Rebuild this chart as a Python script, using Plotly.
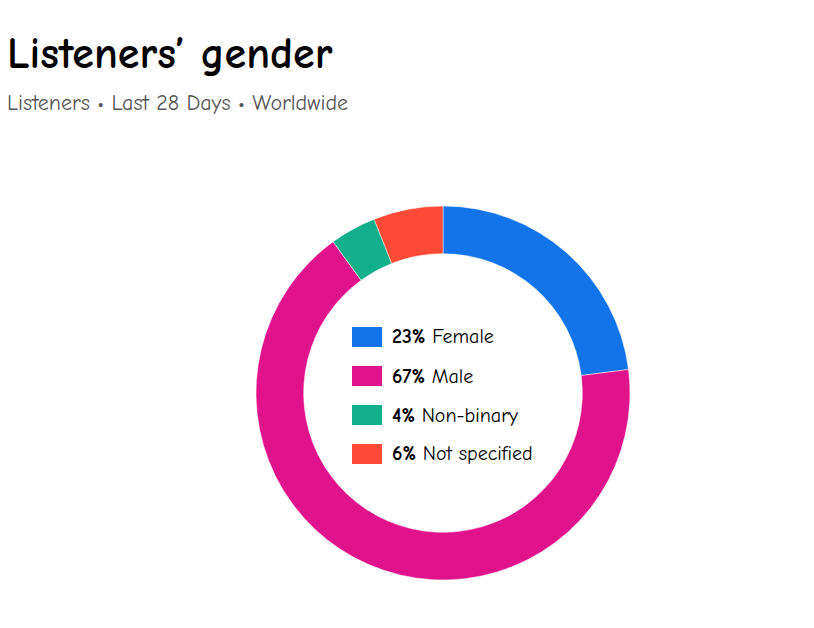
import plotly.graph_objects as go

# Data
categories = ["Female", "Male", "Non-binary", "Not specified"]
shares = [23, 67, 4, 6]
colors = ["#1273EA", "#E0138C", "#12B08A", "#FF4A36"]

title_text = "Listeners’ gender"
subtitle_text = "Listeners • Last 28 Days • Worldwide"

W, H = 814, 628
FONT = "Comic Sans MS, Comic Neue, DejaVu Sans, sans-serif"

fig = go.Figure()

cx, cy, r = 443, 393, 187
fig.add_trace(go.Pie(
    labels=categories,
    values=shares,
    marker=dict(colors=colors, line=dict(color="white", width=0.5)),
    hole=0.745,
    sort=False,
    direction="clockwise",
    rotation=0,
    textinfo="none",
    hoverinfo="label+percent",
    showlegend=False,
    domain=dict(x=[(cx - r) / W, (cx + r) / W], y=[(H - cy - r) / H, (H - cy + r) / H]),
))

shapes = []
annotations = []
# Legend inside the hole
row_y0 = 337
row_step = 39
for i, (cat, val, col) in enumerate(zip(categories, shares, colors)):
    yc = row_y0 + i * row_step
    shapes.append(dict(type="rect", xref="paper", yref="paper",
                       x0=352 / W, x1=382 / W,
                       y0=(H - yc - 10) / H, y1=(H - yc + 10) / H,
                       fillcolor=col, line=dict(width=0)))
    annotations.append(dict(xref="paper", yref="paper", x=390 / W, y=(H - yc) / H,
                            xanchor="left", yanchor="middle", showarrow=False,
                            text=f"<b>{val}%</b> {cat}",
                            font=dict(family=FONT, size=20, color="#000")))

annotations.append(dict(xref="paper", yref="paper", x=5 / W, y=(H - 54) / H,
                        xanchor="left", yanchor="middle", showarrow=False,
                        text=f"<b>{title_text}</b>",
                        font=dict(family=FONT, size=44, color="#000")))
annotations.append(dict(xref="paper", yref="paper", x=5 / W, y=(H - 103) / H,
                        xanchor="left", yanchor="middle", showarrow=False,
                        text=subtitle_text,
                        font=dict(family=FONT, size=22, color="#555")))

fig.update_layout(
    width=W, height=H,
    margin=dict(l=0, r=0, t=0, b=0),
    paper_bgcolor="white", plot_bgcolor="white",
    shapes=shapes, annotations=annotations,
    font=dict(family=FONT),
)

fig.write_html("out.html", config={"displayModeBar": False})
